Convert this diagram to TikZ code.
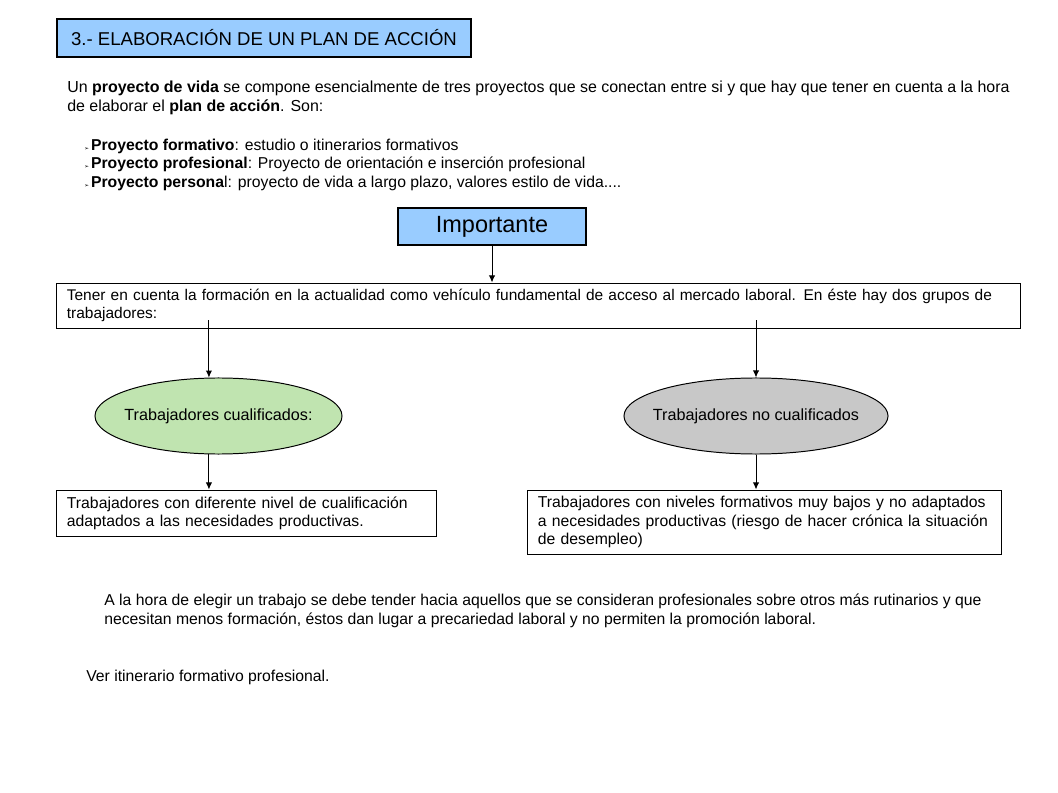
\documentclass[tikz,border=0pt]{standalone}
\usepackage{fontspec}
\setmainfont{Liberation Sans}
\newfontfamily\symfont{DejaVu Sans}
\usetikzlibrary{shapes.geometric, arrows.meta}

\definecolor{boxblue}{RGB}{153,204,255}
\definecolor{cualgreen}{RGB}{192,228,176}
\definecolor{nocualgray}{RGB}{200,200,200}
\newcommand{\bul}{{\symfont\fontsize{4}{5}\selectfont ➢}\hspace{1.5pt}}

\begin{document}
\begin{tikzpicture}[
		x=0.025cm, y=-0.025cm,
		every node/.style={font=\fontsize{11.2}{13}\selectfont},
		box/.style={draw, line width=0.7pt, rectangle, align=left, inner xsep=0.25cm, inner ysep=0pt},
		bluebox/.style={draw, line width=1.1pt, rectangle, fill=boxblue, align=center, inner sep=0pt},
		oval/.style={draw, line width=0.7pt, ellipse, inner sep=0pt, font=\fontsize{11.5}{13}\selectfont},
		plain/.style={anchor=north west, align=left, inner sep=0pt},
		arrow/.style={-{Latex[length=5pt,width=4.5pt]}, line width=0.7pt}
		]
		
		\useasboundingbox[fill=white] (0,0) rectangle (1058,793);
		
		\node[bluebox, minimum width=10.35cm, minimum height=0.95cm, font=\fontsize{13.2}{15}\selectfont] (titulo) at (264,38) {3.- ELABORACIÓN DE UN PLAN DE ACCIÓN};
		\node[plain, font=\fontsize{11.35}{13.4}\selectfont] (intro) at (67,81) {Un \textbf{proyecto de vida} se compone esencialmente de tres proyectos que se conectan entre si y que hay que tener en cuenta a la hora\\de elaborar el \textbf{plan de acción}. Son:};
		\node[plain] (proyectos) at (84,139) {\bul\textbf{Proyecto formativo}: estudio o itinerarios formativos\\\bul\textbf{Proyecto profesional}: Proyecto de orientación e inserción profesional\\\bul\textbf{Proyecto persona}l: proyecto de vida a largo plazo, valores estilo de vida....};
		
		\node[bluebox, minimum width=4.7cm, minimum height=0.925cm, font=\fontsize{16.7}{19}\selectfont] (importante) at (492,226.5) {\raisebox{-1pt}{Importante}};
		\node[box, text width=23.575cm, minimum height=1.125cm, font=\fontsize{11}{12.6}\selectfont] (tener) at (538.5,305.5) {Tener en cuenta la formación en la actualidad como vehículo fundamental de acceso al mercado laboral. En éste hay dos grupos de\\trabajadores:};
		
		\node[oval, fill=cualgreen, minimum width=6.175cm, minimum height=1.9cm] (cual) at (218.5,416) {\makebox[0pt]{Trabajadores cualificados:}};
		\node[oval, fill=nocualgray, minimum width=6.6cm, minimum height=1.9cm] (nocual) at (756,416) {\makebox[0pt]{Trabajadores no cualificados}};
		
		\node[box, text width=8.975cm, minimum height=1.15cm] (diferente) at (246.5,513) {Trabajadores con diferente nivel de cualificación\\adaptados a las necesidades productivas.};
		\node[box, text width=11.325cm, minimum height=1.6cm] (bajos) at (764.5,522) {Trabajadores con niveles formativos muy bajos y no adaptados\\a necesidades productivas (riesgo de hacer crónica la situación\\de desempleo)};
		
		\node[plain] (eleccion) at (104,594) {A la hora de elegir un trabajo se debe tender hacia aquellos que se consideran profesionales sobre otros más rutinarios y que\\necesitan menos formación, éstos dan lugar a precariedad laboral y no permiten la promoción laboral.};
		\node[plain] (ver) at (86,670) {Ver itinerario formativo profesional.};
		
		\draw[arrow] (importante.south) -- (importante.south |- tener.north);
		\draw[arrow] ([yshift=6pt]tener.south -| cual.104) -- (cual.104);
		\draw[arrow] ([yshift=6pt]tener.south -| nocual.north) -- (nocual.north);
		\draw[arrow] (cual.256) -- (cual.256 |- diferente.north);
		\draw[arrow] (nocual.south) -- (nocual.south |- bajos.north);
		
	\end{tikzpicture}
\end{document}
